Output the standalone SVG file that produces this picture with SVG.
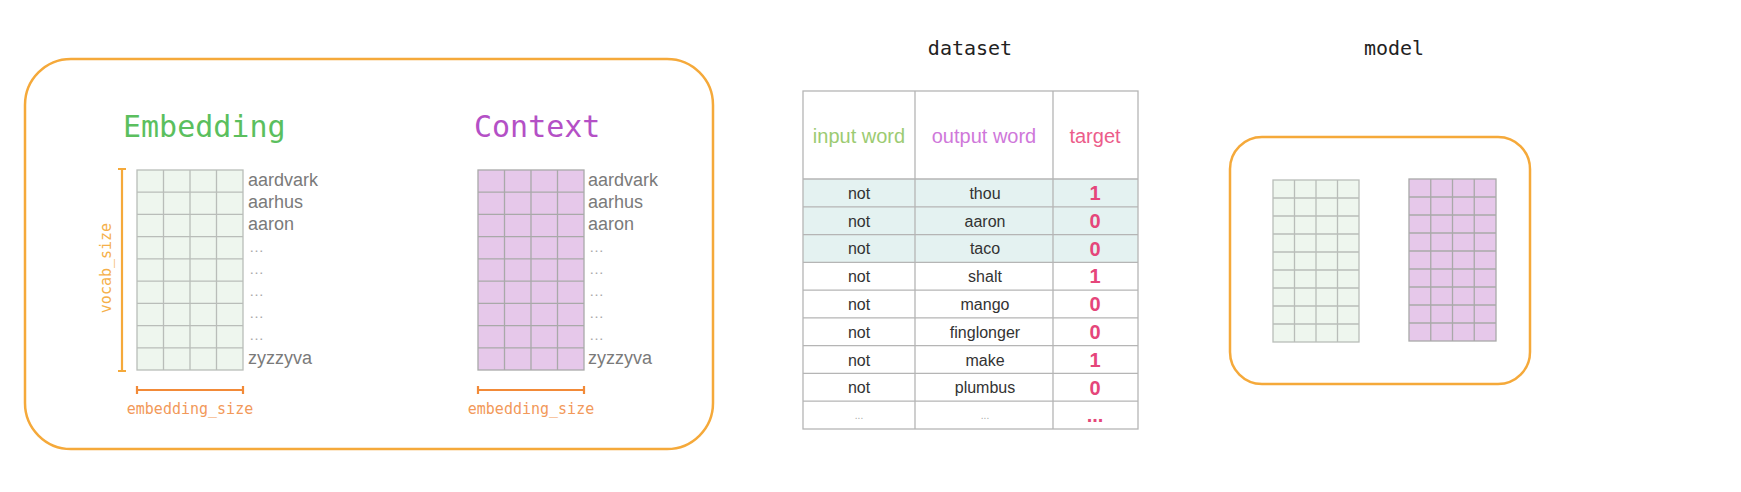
<svg xmlns="http://www.w3.org/2000/svg" width="1741" height="492" viewBox="0 0 1741 492">
<style>
.frame{fill:none;stroke:#F5A93A;stroke-width:2.5}
.gridG{fill:#EEF6EE;stroke:#B9BDB9;stroke-width:1.3}
.gridP{fill:#E6C8EA;stroke:#A9A9A9;stroke-width:1.3}
.title{font-family:"DejaVu Sans Mono",monospace;font-size:30px}
.mono20{font-family:"DejaVu Sans Mono",monospace;font-size:20px;fill:#222}
.word{font-family:"Liberation Sans",Arial,sans-serif;font-size:18px;fill:#7a7a7a}
.ell{font-family:"Liberation Sans",Arial,sans-serif;font-size:15px;fill:#aaa;letter-spacing:1px}
.dim{font-family:"DejaVu Sans Mono",monospace;font-size:15px}
.cell{font-family:"Liberation Sans",Arial,sans-serif;font-size:16px;fill:#333;text-anchor:middle}
.hdr{font-family:"Liberation Sans",Arial,sans-serif;font-size:20px;text-anchor:middle}
.tgt{font-family:"Liberation Sans",Arial,sans-serif;font-size:20px;font-weight:bold;fill:#E5467A;text-anchor:middle}
.tline{fill:none;stroke:#B5B5B5;stroke-width:1.3}
</style>

<g id="embedding-context-frame">
<rect class="frame" x="25" y="59" width="688" height="390" rx="46" ry="46"/>
</g>

<g id="embedding">
<text class="title" x="123" y="137" fill="#5BBF5E">Embedding</text>
<rect class="gridG" x="137" y="170" width="106" height="200"/>
<path class="gridG" fill="none" d="M163.5 170V370M190 170V370M216.5 170V370M137 192.2H243M137 214.4H243M137 236.7H243M137 258.9H243M137 281.1H243M137 303.3H243M137 325.6H243M137 347.8H243"/>
<text class="word" x="248" y="186">aardvark</text>
<text class="word" x="248" y="208">aarhus</text>
<text class="word" x="248" y="230">aaron</text>
<text class="ell" x="249" y="252">…</text>
<text class="ell" x="249" y="274">…</text>
<text class="ell" x="249" y="296">…</text>
<text class="ell" x="249" y="318">…</text>
<text class="ell" x="249" y="340">…</text>
<text class="word" x="248" y="364">zyzzyva</text>
</g>

<g id="context">
<text class="title" x="474" y="137" fill="#B450C6">Context</text>
<rect class="gridP" x="478" y="170" width="106" height="200"/>
<path class="gridP" fill="none" d="M504.5 170V370M531 170V370M557.5 170V370M478 192.2H584M478 214.4H584M478 236.7H584M478 258.9H584M478 281.1H584M478 303.3H584M478 325.6H584M478 347.8H584"/>
<text class="word" x="588" y="186">aardvark</text>
<text class="word" x="588" y="208">aarhus</text>
<text class="word" x="588" y="230">aaron</text>
<text class="ell" x="589" y="252">…</text>
<text class="ell" x="589" y="274">…</text>
<text class="ell" x="589" y="296">…</text>
<text class="ell" x="589" y="318">…</text>
<text class="ell" x="589" y="340">…</text>
<text class="word" x="588" y="364">zyzzyva</text>
</g>

<g id="dimensions">
<path d="M122 169V371M118 169H126M118 371H126" stroke="#F5A93A" stroke-width="2.2" fill="none"/>
<text class="dim" fill="#F5B04A" transform="translate(111 268) rotate(-90)" text-anchor="middle">vocab_size</text>
<path d="M137 390H243M137 386V394M243 386V394" stroke="#F28A38" stroke-width="2.2" fill="none"/>
<text class="dim" fill="#F2995A" x="190" y="414" text-anchor="middle">embedding_size</text>
<path d="M478 390H584M478 386V394M584 386V394" stroke="#F28A38" stroke-width="2.2" fill="none"/>
<text class="dim" fill="#F2995A" x="531" y="414" text-anchor="middle">embedding_size</text>
</g>

<g id="dataset">
<text class="mono20" x="970" y="55" text-anchor="middle">dataset</text>
<rect x="803" y="179" width="335" height="83.3" fill="#E4F2F1"/>
<rect class="tline" x="803" y="91" width="335" height="338"/>
<path class="tline" d="M915 91V429M1053 91V429M803 179H1138M803 206.8H1138M803 234.6H1138M803 262.3H1138M803 290.1H1138M803 317.9H1138M803 345.7H1138M803 373.4H1138M803 401.2H1138"/>
<text class="hdr" x="859" y="143" fill="#9CCB72">input word</text>
<text class="hdr" x="984" y="143" fill="#CF78DA">output word</text>
<text class="hdr" x="1095" y="143" fill="#EC5C8A">target</text>
<text class="cell" x="859" y="199">not</text><text class="cell" x="985" y="199">thou</text><text class="tgt" x="1095" y="200">1</text>
<text class="cell" x="859" y="227">not</text><text class="cell" x="985" y="227">aaron</text><text class="tgt" x="1095" y="228">0</text>
<text class="cell" x="859" y="254">not</text><text class="cell" x="985" y="254">taco</text><text class="tgt" x="1095" y="256">0</text>
<text class="cell" x="859" y="282">not</text><text class="cell" x="985" y="282">shalt</text><text class="tgt" x="1095" y="283">1</text>
<text class="cell" x="859" y="310">not</text><text class="cell" x="985" y="310">mango</text><text class="tgt" x="1095" y="311">0</text>
<text class="cell" x="859" y="338">not</text><text class="cell" x="985" y="338">finglonger</text><text class="tgt" x="1095" y="339">0</text>
<text class="cell" x="859" y="366">not</text><text class="cell" x="985" y="366">make</text><text class="tgt" x="1095" y="367">1</text>
<text class="cell" x="859" y="393">not</text><text class="cell" x="985" y="393">plumbus</text><text class="tgt" x="1095" y="395">0</text>
<text class="cell" x="859" y="419" style="font-size:10px;fill:#aaa">...</text>
<text class="cell" x="985" y="419" style="font-size:10px;fill:#aaa">...</text>
<text class="tgt" x="1095" y="422">...</text>
</g>

<g id="model">
<text class="mono20" x="1394" y="55" text-anchor="middle">model</text>
<rect class="frame" x="1230" y="137" width="300" height="247" rx="32" ry="32"/>
<rect class="gridG" x="1273" y="180" width="86" height="162"/>
<path class="gridG" fill="none" d="M1294.5 180V342M1316 180V342M1337.5 180V342M1273 198H1359M1273 216H1359M1273 234H1359M1273 252H1359M1273 270H1359M1273 288H1359M1273 306H1359M1273 324H1359"/>
<rect class="gridP" x="1409" y="179" width="87" height="162"/>
<path class="gridP" fill="none" d="M1430.75 179V341M1452.5 179V341M1474.25 179V341M1409 197H1496M1409 215H1496M1409 233H1496M1409 251H1496M1409 269H1496M1409 287H1496M1409 305H1496M1409 323H1496"/>
</g>
</svg>
